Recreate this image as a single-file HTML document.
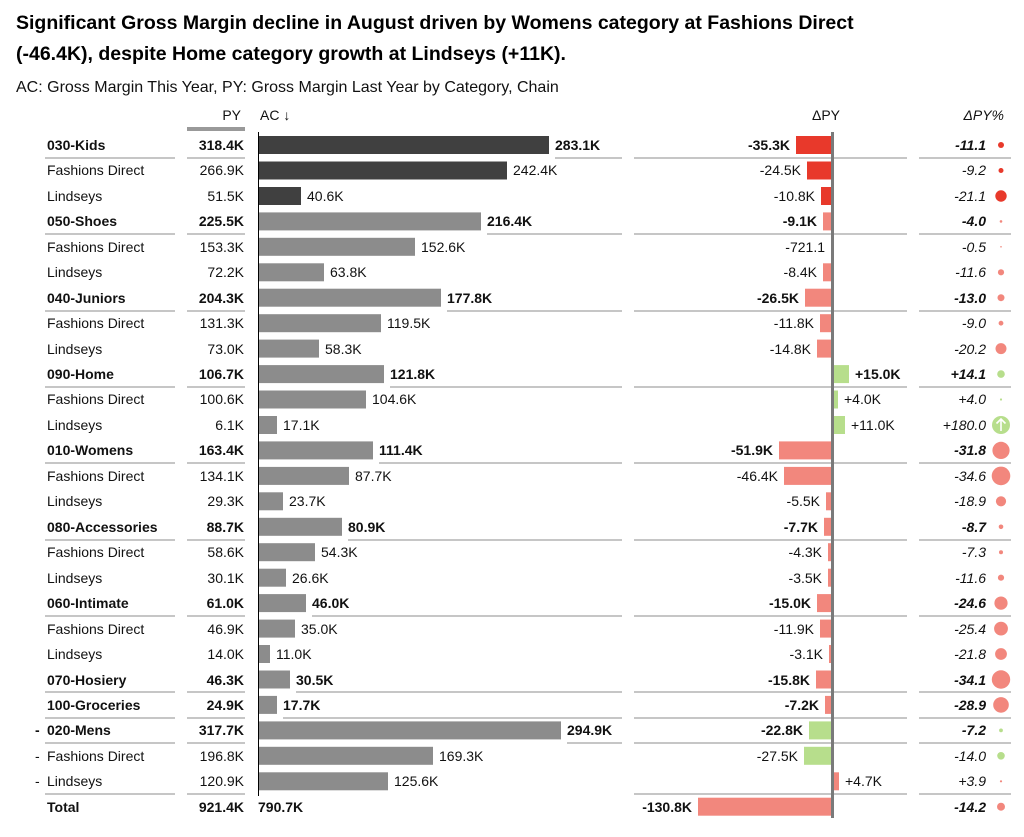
<!DOCTYPE html>
<html><head><meta charset="utf-8"><style>
body{margin:0;background:#fff;}
svg{display:block;font-family:"Liberation Sans",Arial,sans-serif;}
.t{font-size:14px;fill:#111}
.b{font-weight:bold}
.i{font-style:italic}
.ln{stroke:#b4b4b4;stroke-width:1.5}
</style></head><body>
<svg width="1024" height="837" xmlns="http://www.w3.org/2000/svg">
<text x="16" y="29" style="font-size:19.5px;font-weight:bold" fill="#000">Significant Gross Margin decline in August driven by Womens category at Fashions Direct</text>
<text x="16" y="60" style="font-size:19.5px;font-weight:bold" fill="#000">(-46.4K), despite Home category growth at Lindseys (+11K).</text>
<text x="16" y="92" style="font-size:16px" fill="#111">AC: Gross Margin This Year, PY: Gross Margin Last Year by Category, Chain</text>
<text x="241" y="120" class="t" text-anchor="end">PY</text>
<text x="260" y="120" class="t">AC ↓</text>
<text x="826" y="120" class="t" text-anchor="middle">ΔPY</text>
<text x="1004" y="120" class="t i" text-anchor="end">ΔPY%</text>
<rect x="187" y="127" width="58" height="4" fill="#999"/>

<!-- separator lines -->
<g class="ln">
<line x1="45" y1="158" x2="175" y2="158"/><line x1="187" y1="158" x2="245" y2="158"/><line x1="555" y1="158" x2="622" y2="158"/><line x1="634" y1="158" x2="907" y2="158"/><line x1="919" y1="158" x2="1011" y2="158"/>
<line x1="45" y1="234" x2="175" y2="234"/><line x1="187" y1="234" x2="245" y2="234"/><line x1="487" y1="234" x2="622" y2="234"/><line x1="634" y1="234" x2="907" y2="234"/><line x1="919" y1="234" x2="1011" y2="234"/>
<line x1="45" y1="311" x2="175" y2="311"/><line x1="187" y1="311" x2="245" y2="311"/><line x1="447" y1="311" x2="622" y2="311"/><line x1="634" y1="311" x2="907" y2="311"/><line x1="919" y1="311" x2="1011" y2="311"/>
<line x1="45" y1="387" x2="175" y2="387"/><line x1="187" y1="387" x2="245" y2="387"/><line x1="390" y1="387" x2="622" y2="387"/><line x1="634" y1="387" x2="907" y2="387"/><line x1="919" y1="387" x2="1011" y2="387"/>
<line x1="45" y1="463" x2="175" y2="463"/><line x1="187" y1="463" x2="245" y2="463"/><line x1="379" y1="463" x2="622" y2="463"/><line x1="634" y1="463" x2="907" y2="463"/><line x1="919" y1="463" x2="1011" y2="463"/>
<line x1="45" y1="540" x2="175" y2="540"/><line x1="187" y1="540" x2="245" y2="540"/><line x1="348" y1="540" x2="622" y2="540"/><line x1="634" y1="540" x2="907" y2="540"/><line x1="919" y1="540" x2="1011" y2="540"/>
<line x1="45" y1="616" x2="175" y2="616"/><line x1="187" y1="616" x2="245" y2="616"/><line x1="312" y1="616" x2="622" y2="616"/><line x1="634" y1="616" x2="907" y2="616"/><line x1="919" y1="616" x2="1011" y2="616"/>
<line x1="45" y1="692" x2="175" y2="692"/><line x1="187" y1="692" x2="245" y2="692"/><line x1="296" y1="692" x2="622" y2="692"/><line x1="634" y1="692" x2="907" y2="692"/><line x1="919" y1="692" x2="1011" y2="692"/>
<line x1="45" y1="718" x2="175" y2="718"/><line x1="187" y1="718" x2="245" y2="718"/><line x1="283" y1="718" x2="622" y2="718"/><line x1="634" y1="718" x2="907" y2="718"/><line x1="919" y1="718" x2="1011" y2="718"/>
<line x1="45" y1="743" x2="175" y2="743"/><line x1="187" y1="743" x2="245" y2="743"/><line x1="567" y1="743" x2="622" y2="743"/><line x1="634" y1="743" x2="907" y2="743"/><line x1="919" y1="743" x2="1011" y2="743"/>
<line x1="45" y1="794" x2="175" y2="794"/><line x1="187" y1="794" x2="245" y2="794"/><line x1="634" y1="794" x2="907" y2="794"/><line x1="919" y1="794" x2="1011" y2="794"/>
</g>

<!-- labels -->
<g class="t">
<text x="47" y="150" class="b">030-Kids</text>
<text x="47" y="175">Fashions Direct</text>
<text x="47" y="201">Lindseys</text>
<text x="47" y="226" class="b">050-Shoes</text>
<text x="47" y="252">Fashions Direct</text>
<text x="47" y="277">Lindseys</text>
<text x="47" y="303" class="b">040-Juniors</text>
<text x="47" y="328">Fashions Direct</text>
<text x="47" y="354">Lindseys</text>
<text x="47" y="379" class="b">090-Home</text>
<text x="47" y="404">Fashions Direct</text>
<text x="47" y="430">Lindseys</text>
<text x="47" y="455" class="b">010-Womens</text>
<text x="47" y="481">Fashions Direct</text>
<text x="47" y="506">Lindseys</text>
<text x="47" y="532" class="b">080-Accessories</text>
<text x="47" y="557">Fashions Direct</text>
<text x="47" y="583">Lindseys</text>
<text x="47" y="608" class="b">060-Intimate</text>
<text x="47" y="634">Fashions Direct</text>
<text x="47" y="659">Lindseys</text>
<text x="47" y="685" class="b">070-Hosiery</text>
<text x="47" y="710" class="b">100-Groceries</text>
<text x="35" y="735" class="b">-</text><text x="47" y="735" class="b">020-Mens</text>
<text x="35" y="761">-</text><text x="47" y="761">Fashions Direct</text>
<text x="35" y="786">-</text><text x="47" y="786">Lindseys</text>
<text x="47" y="812" class="b">Total</text>
</g>

<!-- PY values -->
<g class="t" text-anchor="end">
<text x="244" y="150" class="b">318.4K</text>
<text x="244" y="175">266.9K</text>
<text x="244" y="201">51.5K</text>
<text x="244" y="226" class="b">225.5K</text>
<text x="244" y="252">153.3K</text>
<text x="244" y="277">72.2K</text>
<text x="244" y="303" class="b">204.3K</text>
<text x="244" y="328">131.3K</text>
<text x="244" y="354">73.0K</text>
<text x="244" y="379" class="b">106.7K</text>
<text x="244" y="404">100.6K</text>
<text x="244" y="430">6.1K</text>
<text x="244" y="455" class="b">163.4K</text>
<text x="244" y="481">134.1K</text>
<text x="244" y="506">29.3K</text>
<text x="244" y="532" class="b">88.7K</text>
<text x="244" y="557">58.6K</text>
<text x="244" y="583">30.1K</text>
<text x="244" y="608" class="b">61.0K</text>
<text x="244" y="634">46.9K</text>
<text x="244" y="659">14.0K</text>
<text x="244" y="685" class="b">46.3K</text>
<text x="244" y="710" class="b">24.9K</text>
<text x="244" y="735" class="b">317.7K</text>
<text x="244" y="761">196.8K</text>
<text x="244" y="786">120.9K</text>
<text x="244" y="812" class="b">921.4K</text>
</g>

<!-- AC bars -->
<g>
<rect x="259" y="136" width="290" height="18" fill="#404040"/>
<rect x="259" y="161.5" width="248" height="18" fill="#404040"/>
<rect x="259" y="187" width="42" height="18" fill="#404040"/>
<g fill="#8c8c8c">
<rect x="259" y="212.4" width="222" height="18"/>
<rect x="259" y="237.8" width="156" height="18"/>
<rect x="259" y="263.3" width="65" height="18"/>
<rect x="259" y="288.7" width="182" height="18"/>
<rect x="259" y="314.2" width="122" height="18"/>
<rect x="259" y="339.6" width="60" height="18"/>
<rect x="259" y="365.1" width="125" height="18"/>
<rect x="259" y="390.5" width="107" height="18"/>
<rect x="259" y="416" width="18" height="18"/>
<rect x="259" y="441.4" width="114" height="18"/>
<rect x="259" y="466.9" width="90" height="18"/>
<rect x="259" y="492.3" width="24" height="18"/>
<rect x="259" y="517.8" width="83" height="18"/>
<rect x="259" y="543.2" width="56" height="18"/>
<rect x="259" y="568.7" width="27" height="18"/>
<rect x="259" y="594.1" width="47" height="18"/>
<rect x="259" y="619.6" width="36" height="18"/>
<rect x="259" y="645" width="11" height="18"/>
<rect x="259" y="670.5" width="31" height="18"/>
<rect x="259" y="695.9" width="18" height="18"/>
<rect x="259" y="721.4" width="302" height="18"/>
<rect x="259" y="746.8" width="174" height="18"/>
<rect x="259" y="772.3" width="129" height="18"/>
</g>
<line x1="258.5" y1="132" x2="258.5" y2="796" stroke="#000" stroke-width="1"/>
</g>

<!-- AC values -->
<g class="t">
<text x="555" y="150" class="b">283.1K</text>
<text x="513" y="175">242.4K</text>
<text x="307" y="201">40.6K</text>
<text x="487" y="226" class="b">216.4K</text>
<text x="421" y="252">152.6K</text>
<text x="330" y="277">63.8K</text>
<text x="447" y="303" class="b">177.8K</text>
<text x="387" y="328">119.5K</text>
<text x="325" y="354">58.3K</text>
<text x="390" y="379" class="b">121.8K</text>
<text x="372" y="404">104.6K</text>
<text x="283" y="430">17.1K</text>
<text x="379" y="455" class="b">111.4K</text>
<text x="355" y="481">87.7K</text>
<text x="289" y="506">23.7K</text>
<text x="348" y="532" class="b">80.9K</text>
<text x="321" y="557">54.3K</text>
<text x="292" y="583">26.6K</text>
<text x="312" y="608" class="b">46.0K</text>
<text x="301" y="634">35.0K</text>
<text x="276" y="659">11.0K</text>
<text x="296" y="685" class="b">30.5K</text>
<text x="283" y="710" class="b">17.7K</text>
<text x="567" y="735" class="b">294.9K</text>
<text x="439" y="761">169.3K</text>
<text x="394" y="786">125.6K</text>
<text x="258" y="812" class="b">790.7K</text>
</g>

<!-- Delta bars -->
<g>
<g fill="#e8392b">
<rect x="796" y="136" width="36" height="18"/>
<rect x="807" y="161.5" width="25" height="18"/>
<rect x="821" y="187" width="11" height="18"/>
</g>
<g fill="#f2877d">
<rect x="823" y="212.4" width="9" height="18"/>
<rect x="831" y="237.8" width="1" height="18"/>
<rect x="823" y="263.3" width="9" height="18"/>
<rect x="805" y="288.7" width="27" height="18"/>
<rect x="820" y="314.2" width="12" height="18"/>
<rect x="817" y="339.6" width="15" height="18"/>
<rect x="779" y="441.4" width="53" height="18"/>
<rect x="784" y="466.9" width="48" height="18"/>
<rect x="826" y="492.3" width="6" height="18"/>
<rect x="824" y="517.8" width="8" height="18"/>
<rect x="828" y="543.2" width="4" height="18"/>
<rect x="828" y="568.7" width="4" height="18"/>
<rect x="817" y="594.1" width="15" height="18"/>
<rect x="820" y="619.6" width="12" height="18"/>
<rect x="829" y="645" width="3" height="18"/>
<rect x="816" y="670.5" width="16" height="18"/>
<rect x="825" y="695.9" width="7" height="18"/>
<rect x="834" y="772.3" width="5" height="18"/>
<rect x="698" y="797.7" width="134" height="18"/>
</g>
<g fill="#b7de8c">
<rect x="834" y="365.1" width="15" height="18"/>
<rect x="834" y="390.5" width="4" height="18"/>
<rect x="834" y="416" width="11" height="18"/>
<rect x="809" y="721.4" width="23" height="18"/>
<rect x="804" y="746.8" width="28" height="18"/>
</g>
<rect x="831" y="132" width="3" height="686" fill="#7a7a7a"/>
</g>

<!-- Delta values -->
<g class="t" text-anchor="end">
<text x="790" y="150" class="b">-35.3K</text>
<text x="801" y="175">-24.5K</text>
<text x="815" y="201">-10.8K</text>
<text x="817" y="226" class="b">-9.1K</text>
<text x="825" y="252">-721.1</text>
<text x="817" y="277">-8.4K</text>
<text x="799" y="303" class="b">-26.5K</text>
<text x="814" y="328">-11.8K</text>
<text x="811" y="354">-14.8K</text>
<text x="773" y="455" class="b">-51.9K</text>
<text x="778" y="481">-46.4K</text>
<text x="820" y="506">-5.5K</text>
<text x="818" y="532" class="b">-7.7K</text>
<text x="822" y="557">-4.3K</text>
<text x="822" y="583">-3.5K</text>
<text x="811" y="608" class="b">-15.0K</text>
<text x="814" y="634">-11.9K</text>
<text x="823" y="659">-3.1K</text>
<text x="810" y="685" class="b">-15.8K</text>
<text x="819" y="710" class="b">-7.2K</text>
<text x="803" y="735" class="b">-22.8K</text>
<text x="798" y="761">-27.5K</text>
<text x="692" y="812" class="b">-130.8K</text>
</g>
<g class="t">
<text x="855" y="379" class="b">+15.0K</text>
<text x="844" y="404">+4.0K</text>
<text x="851" y="430">+11.0K</text>
<text x="845" y="786">+4.7K</text>
</g>

<!-- Pct values -->
<g class="t i" text-anchor="end">
<text x="986" y="150" class="b">-11.1</text>
<text x="986" y="175">-9.2</text>
<text x="986" y="201">-21.1</text>
<text x="986" y="226" class="b">-4.0</text>
<text x="986" y="252">-0.5</text>
<text x="986" y="277">-11.6</text>
<text x="986" y="303" class="b">-13.0</text>
<text x="986" y="328">-9.0</text>
<text x="986" y="354">-20.2</text>
<text x="986" y="379" class="b">+14.1</text>
<text x="986" y="404">+4.0</text>
<text x="986" y="430">+180.0</text>
<text x="986" y="455" class="b">-31.8</text>
<text x="986" y="481">-34.6</text>
<text x="986" y="506">-18.9</text>
<text x="986" y="532" class="b">-8.7</text>
<text x="986" y="557">-7.3</text>
<text x="986" y="583">-11.6</text>
<text x="986" y="608" class="b">-24.6</text>
<text x="986" y="634">-25.4</text>
<text x="986" y="659">-21.8</text>
<text x="986" y="685" class="b">-34.1</text>
<text x="986" y="710" class="b">-28.9</text>
<text x="986" y="735" class="b">-7.2</text>
<text x="986" y="761">-14.0</text>
<text x="986" y="786">+3.9</text>
<text x="986" y="812" class="b">-14.2</text>
</g>

<!-- dots -->
<g>
<circle cx="1001" cy="145" r="3" fill="#e8392b"/>
<circle cx="1001" cy="170.5" r="2.5" fill="#e8392b"/>
<circle cx="1001" cy="196" r="5.7" fill="#e8392b"/>
<g fill="#f2877d">
<circle cx="1001" cy="221.4" r="1.3"/>
<circle cx="1001" cy="246.8" r="0.8"/>
<circle cx="1001" cy="272.3" r="3.1"/>
<circle cx="1001" cy="297.7" r="3.5"/>
<circle cx="1001" cy="323.2" r="2.4"/>
<circle cx="1001" cy="348.6" r="5.5"/>
<circle cx="1001" cy="450.4" r="8.6"/>
<circle cx="1001" cy="475.9" r="9.3"/>
<circle cx="1001" cy="501.3" r="5.1"/>
<circle cx="1001" cy="526.8" r="2.3"/>
<circle cx="1001" cy="552.2" r="2"/>
<circle cx="1001" cy="577.7" r="3.1"/>
<circle cx="1001" cy="603.1" r="6.6"/>
<circle cx="1001" cy="628.6" r="6.9"/>
<circle cx="1001" cy="654" r="5.9"/>
<circle cx="1001" cy="679.5" r="9.2"/>
<circle cx="1001" cy="704.9" r="7.8"/>
<circle cx="1001" cy="781.3" r="1.1"/>
<circle cx="1001" cy="806.7" r="4"/>
</g>
<g fill="#b7de8c">
<circle cx="1001" cy="374.1" r="3.8"/>
<circle cx="1001" cy="399.5" r="1.1"/>
<circle cx="1001" cy="425" r="9"/>
<circle cx="1001" cy="730.4" r="1.9"/>
<circle cx="1001" cy="755.8" r="3.8"/>
</g>
<path d="M1001 431 V419 M996.5 423.5 L1001 419 L1005.5 423.5" stroke="#fff" stroke-width="1.6" fill="none"/>
</g>
</svg>
</body></html>
